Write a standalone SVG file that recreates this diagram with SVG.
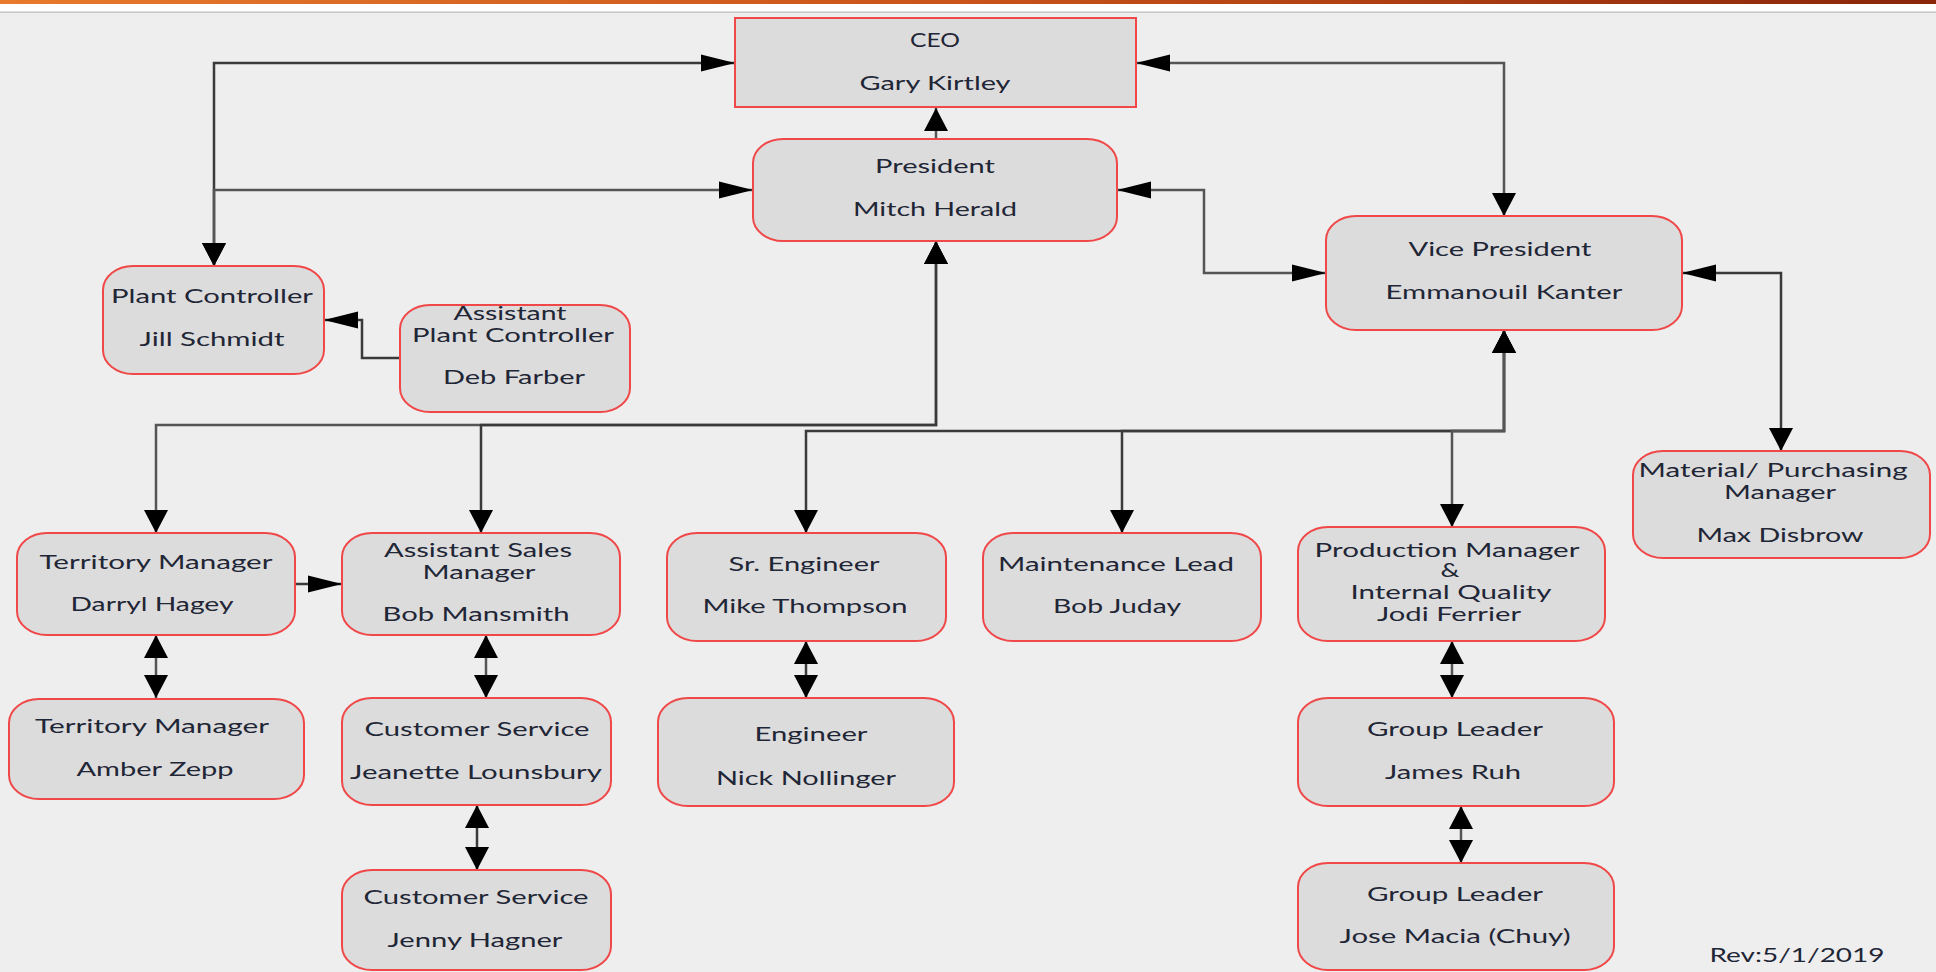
<svg xmlns="http://www.w3.org/2000/svg" width="1936" height="972" viewBox="0 0 1936 972">
<style>
.bg{fill:#eeeeee}
.box{fill:#dcdcdc;stroke:#f04848;stroke-width:2}
.c{fill:none;stroke:#555555;stroke-width:2.5}
.cd{fill:none;stroke:#3a3a3a;stroke-width:2.5}
text{font-family:Lato,"Open Sans","Liberation Sans",sans-serif;font-size:18.5px;fill:#1f2636;text-anchor:middle}
</style>
<defs>
<linearGradient id="topbar" x1="0" y1="0" x2="1" y2="0">
<stop offset="0" stop-color="#e77a2c"/>
<stop offset="0.5" stop-color="#c9531a"/>
<stop offset="1" stop-color="#8a250a"/>
</linearGradient>
<marker id="ah" markerUnits="userSpaceOnUse" markerWidth="34" markerHeight="18" viewBox="0 0 32 16" refX="32" refY="8" orient="auto-start-reverse">
<path d="M0,0 L32,8 L0,16 Z" fill="#000"/>
</marker>
<marker id="av" markerUnits="userSpaceOnUse" markerWidth="24" markerHeight="24" viewBox="0 0 22 23" refX="22" refY="11.5" orient="auto-start-reverse">
<path d="M0,0 L22,11.5 L0,23 Z" fill="#000"/>
</marker>
</defs>
<rect class="bg" x="0" y="0" width="1936" height="972"/>
<rect x="0" y="0" width="1936" height="4" fill="url(#topbar)"/>
<rect x="0" y="4" width="1936" height="7.5" fill="#ffffff"/>
<rect x="0" y="11.5" width="1936" height="1.5" fill="#c8c8c8"/>

<g id="connectors">
<path class="cd" d="M735,63 H214 V266" marker-start="url(#ah)" marker-end="url(#av)"/>
<path class="c" d="M753,190 H214 V266" marker-start="url(#ah)" marker-end="url(#av)"/>
<path class="c" d="M1136,63 H1504 V216" marker-start="url(#ah)" marker-end="url(#av)"/>
<path class="c" d="M1117,190 H1204 V273 H1326" marker-start="url(#ah)" marker-end="url(#ah)"/>
<path class="c" d="M936,139 V108" marker-end="url(#av)"/>
<path class="cd" d="M1682,273 H1781 V451" marker-start="url(#ah)" marker-end="url(#av)"/>
<path class="cd" d="M400,358 H362 V320 H324" marker-end="url(#ah)"/>
<path class="c" d="M936,241 V425 H156 V533" marker-start="url(#av)" marker-end="url(#av)"/>
<path class="cd" d="M936,241 V425 H481 V533" marker-start="url(#av)" marker-end="url(#av)"/>
<path class="cd" d="M1504,330 V431 H806 V533" marker-start="url(#av)" marker-end="url(#av)"/>
<path class="cd" d="M1504,330 V431 H1122 V533" marker-start="url(#av)" marker-end="url(#av)"/>
<path class="c" d="M1504,330 V431 H1452 V527" marker-start="url(#av)" marker-end="url(#av)"/>
<path class="cd" d="M295,584 H342" marker-end="url(#ah)"/>
<path class="c" d="M156,635 V698" marker-start="url(#av)" marker-end="url(#av)"/>
<path class="c" d="M486,635 V698" marker-start="url(#av)" marker-end="url(#av)"/>
<path class="cd" d="M477,805 V870" marker-start="url(#av)" marker-end="url(#av)"/>
<path class="cd" d="M806,641 V698" marker-start="url(#av)" marker-end="url(#av)"/>
<path class="c" d="M1452,641 V698" marker-start="url(#av)" marker-end="url(#av)"/>
<path class="c" d="M1461,806 V863" marker-start="url(#av)" marker-end="url(#av)"/>
</g>

<g id="ceo">
<rect class="box" x="735" y="18" width="401" height="89"/>
<text x="935" y="47" textLength="50" lengthAdjust="spacingAndGlyphs">CEO</text>
<text x="935" y="90" textLength="151" lengthAdjust="spacingAndGlyphs">Gary Kirtley</text>
</g>
<g id="president">
<rect class="box" x="753" y="139" width="364" height="102" rx="30" ry="24"/>
<text x="935" y="173" textLength="120" lengthAdjust="spacingAndGlyphs">President</text>
<text x="935" y="216" textLength="164" lengthAdjust="spacingAndGlyphs">Mitch Herald</text>
</g>
<g id="vice-president">
<rect class="box" x="1326" y="216" width="356" height="114" rx="30" ry="24"/>
<text x="1500" y="256" textLength="183" lengthAdjust="spacingAndGlyphs">Vice President</text>
<text x="1504" y="299" textLength="237" lengthAdjust="spacingAndGlyphs">Emmanouil Kanter</text>
</g>
<g id="plant-controller">
<rect class="box" x="103" y="266" width="221" height="108" rx="30" ry="24"/>
<text x="212" y="303" textLength="202" lengthAdjust="spacingAndGlyphs">Plant Controller</text>
<text x="212" y="346" textLength="145" lengthAdjust="spacingAndGlyphs">Jill Schmidt</text>
</g>
<g id="assistant-plant-controller">
<rect class="box" x="400" y="305" width="230" height="107" rx="30" ry="24"/>
<text x="510" y="320" textLength="113" lengthAdjust="spacingAndGlyphs">Assistant</text>
<text x="513" y="342" textLength="202" lengthAdjust="spacingAndGlyphs">Plant Controller</text>
<text x="514" y="384" textLength="142" lengthAdjust="spacingAndGlyphs">Deb Farber</text>
</g>
<g id="material-purchasing">
<rect class="box" x="1633" y="451" width="297" height="107" rx="30" ry="24"/>
<text x="1773" y="477" textLength="269" lengthAdjust="spacingAndGlyphs">Material/ Purchasing</text>
<text x="1780" y="499" textLength="112" lengthAdjust="spacingAndGlyphs">Manager</text>
<text x="1780" y="542" textLength="167" lengthAdjust="spacingAndGlyphs">Max Disbrow</text>
</g>
<g id="territory-darryl">
<rect class="box" x="17" y="533" width="278" height="102" rx="30" ry="24"/>
<text x="156" y="569" textLength="233" lengthAdjust="spacingAndGlyphs">Territory Manager</text>
<text x="152" y="611" textLength="163" lengthAdjust="spacingAndGlyphs">Darryl Hagey</text>
</g>
<g id="assistant-sales">
<rect class="box" x="342" y="533" width="278" height="102" rx="30" ry="24"/>
<text x="478" y="557" textLength="188" lengthAdjust="spacingAndGlyphs">Assistant Sales</text>
<text x="479" y="579" textLength="113" lengthAdjust="spacingAndGlyphs">Manager</text>
<text x="476" y="621" textLength="187" lengthAdjust="spacingAndGlyphs">Bob Mansmith</text>
</g>
<g id="sr-engineer">
<rect class="box" x="667" y="533" width="279" height="108" rx="30" ry="24"/>
<text x="804" y="571" textLength="151" lengthAdjust="spacingAndGlyphs">Sr. Engineer</text>
<text x="805" y="613" textLength="205" lengthAdjust="spacingAndGlyphs">Mike Thompson</text>
</g>
<g id="maintenance-lead">
<rect class="box" x="983" y="533" width="278" height="108" rx="30" ry="24"/>
<text x="1116" y="571" textLength="236" lengthAdjust="spacingAndGlyphs">Maintenance Lead</text>
<text x="1117" y="613" textLength="128" lengthAdjust="spacingAndGlyphs">Bob Juday</text>
</g>
<g id="production-manager">
<rect class="box" x="1298" y="527" width="307" height="114" rx="30" ry="24"/>
<text x="1447" y="557" textLength="265" lengthAdjust="spacingAndGlyphs">Production Manager</text>
<text x="1450" y="577" textLength="19" lengthAdjust="spacingAndGlyphs">&amp;</text>
<text x="1451" y="599" textLength="201" lengthAdjust="spacingAndGlyphs">Internal Quality</text>
<text x="1449" y="621" textLength="144" lengthAdjust="spacingAndGlyphs">Jodi Ferrier</text>
</g>
<g id="territory-amber">
<rect class="box" x="9" y="699" width="295" height="100" rx="30" ry="24"/>
<text x="152" y="733" textLength="234" lengthAdjust="spacingAndGlyphs">Territory Manager</text>
<text x="155" y="776" textLength="157" lengthAdjust="spacingAndGlyphs">Amber Zepp</text>
</g>
<g id="customer-service-jeanette">
<rect class="box" x="342" y="698" width="269" height="107" rx="30" ry="24"/>
<text x="477" y="736" textLength="225" lengthAdjust="spacingAndGlyphs">Customer Service</text>
<text x="476" y="779" textLength="252" lengthAdjust="spacingAndGlyphs">Jeanette Lounsbury</text>
</g>
<g id="engineer">
<rect class="box" x="658" y="698" width="296" height="108" rx="30" ry="24"/>
<text x="811" y="741" textLength="113" lengthAdjust="spacingAndGlyphs">Engineer</text>
<text x="806" y="785" textLength="180" lengthAdjust="spacingAndGlyphs">Nick Nollinger</text>
</g>
<g id="group-leader-james">
<rect class="box" x="1298" y="698" width="316" height="108" rx="30" ry="24"/>
<text x="1455" y="736" textLength="176" lengthAdjust="spacingAndGlyphs">Group Leader</text>
<text x="1453" y="779" textLength="136" lengthAdjust="spacingAndGlyphs">James Ruh</text>
</g>
<g id="customer-service-jenny">
<rect class="box" x="342" y="870" width="269" height="100" rx="30" ry="24"/>
<text x="476" y="904" textLength="225" lengthAdjust="spacingAndGlyphs">Customer Service</text>
<text x="475" y="947" textLength="175" lengthAdjust="spacingAndGlyphs">Jenny Hagner</text>
</g>
<g id="group-leader-jose">
<rect class="box" x="1298" y="863" width="316" height="107" rx="30" ry="24"/>
<text x="1455" y="901" textLength="176" lengthAdjust="spacingAndGlyphs">Group Leader</text>
<text x="1455" y="943" textLength="231" lengthAdjust="spacingAndGlyphs">Jose Macia (Chuy)</text>
</g>
<g id="revision">
<text x="1797" y="962" textLength="175" lengthAdjust="spacingAndGlyphs">Rev:5/1/2019</text>
</g>
</svg>
